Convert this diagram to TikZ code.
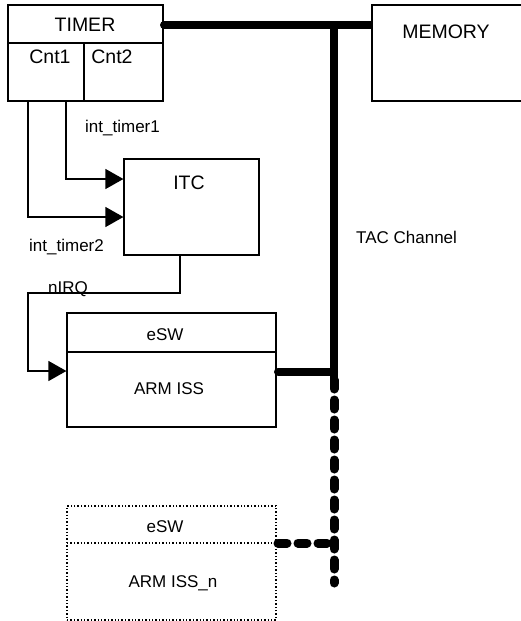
\documentclass[tikz,border=0pt]{standalone}
\usepackage{fontspec}
\setmainfont{Liberation Sans}
\usetikzlibrary{arrows.meta,positioning}

\begin{document}
\begin{tikzpicture}[x=1pt, y=-1pt,
    every node/.style={font=\fontsize{17}{20}\selectfont, inner sep=0pt},
    big/.style={font=\fontsize{19.5}{22}\selectfont},
    box/.style={draw, line width=1.2pt},
    dotbox/.style={draw, line width=1.4pt, dotted},
    bus/.style={line width=8pt, line cap=round},
    dbus/.style={bus, line width=9pt, dash pattern=on 9pt off 11pt},
    sig/.style={line width=1.2pt, -{Triangle[length=18pt, width=20pt]}}]
  \useasboundingbox (0,0) rectangle (521,621);
  % blocks
  \node[box, minimum width=155pt, minimum height=96pt] (timer) at (85.5,53) {};
  \node[box, minimum width=152pt, minimum height=96pt] (memory) at (448,53) {};
  \node[box, minimum width=135pt, minimum height=96pt] (itc) at (191.5,207) {};
  \node[box, minimum width=209pt, minimum height=114pt] (arm) at (171.5,370) {};
  \node[dotbox, minimum width=209pt, minimum height=114pt] (armn) at (171.5,563) {};
  % inner dividers
  \draw[line width=1.2pt] (8,43) -- (163,43);
  \draw[line width=1.2pt] (84,43) -- (84,101);
  \draw[line width=1.2pt] (67,352) -- (276,352);
  \draw[line width=1.4pt, dotted] (67,543) -- (276,543);
  % block texts
  \node[big] (timerlab) at (85,25) {TIMER};
  \node[big] (cnt1) at (50,57) {Cnt1};
  \node[big] (cnt2) at (112,57) {Cnt2};
  \node[big] (memlab) at (446,32) {MEMORY};
  \node[big] (itclab) at (189,183) {ITC};
  \node (esw) at (165,335) {eSW};
  \node (armlab) at (169,389) {ARM ISS};
  \node (eswn) at (165,527) {eSW};
  \node (armnlab) at (173,583) {ARM ISS\_n};
  % signal labels
  \node[anchor=west] (lt1) at (85,128) {int\_timer1};
  \node[anchor=west] (lt2) at (29,247) {int\_timer2};
  \node[anchor=base west] (lirq) at (48,293) {nIRQ};
  \node[anchor=west] (ltac) at (356,237) {TAC Channel};
  % interrupt wires
  \draw[sig] (66,101) |- (itc.west |- 0,179);
  \draw[sig] (28,101) |- (itc.west |- 0,217);
  \draw[sig] (itc.south -| 180,0) -- (180,293) -- (28,293) |- (arm.west |- 0,371);
  % TAC channel bus
  \coordinate (busL) at (164,25);
  \coordinate (busT) at (334,25);
  \coordinate (busM) at (334,380);
  \coordinate (busB) at (334,583);
  \draw[bus] (busL) -- (busT);
  \draw[bus, line cap=butt] (busT) -- (memory.west |- busL);
  \draw[bus, line cap=butt] (busT) -- (busM);
  \draw[dbus] (busM) -- (busB);
  \draw[bus] (278,371.5) -- (334,371.5);
  \draw[dbus] (278,543) -- (334,543);
\end{tikzpicture}
\end{document}
